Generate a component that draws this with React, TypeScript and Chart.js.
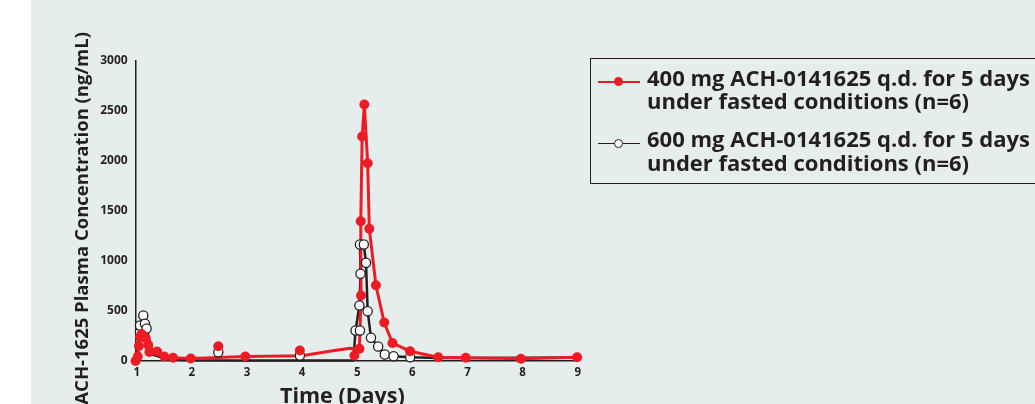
import React, { useEffect, useRef } from "react";
import { Chart, registerables } from "chart.js";

Chart.register(...registerables);

// ---- data ----
const X_TICKS = [1, 2, 3, 4, 5, 6, 7, 8, 9];
const Y_TICKS = [0, 500, 1000, 1500, 2000, 2500, 3000];

const X_TITLE = "Time (Days)";
const Y_TITLE = "ACH-1625 Plasma Concentration (ng/mL)";

const LEGEND_400 = ["400 mg ACH-0141625 q.d. for 5 days", "under fasted conditions (n=6)"];
const LEGEND_600 = ["600 mg ACH-0141625 q.d. for 5 days", "under fasted conditions (n=6)"];

// 400 mg: connecting line
const red400LineX = [0.98, 1.02, 1.04, 1.06, 1.09, 1.12, 1.16, 1.21, 1.23, 1.37, 1.5, 1.66, 1.98, 2.97, 4.0, 4.5, 4.87, 5.04, 5.07, 5.065, 5.09, 5.13, 5.19, 5.22, 5.34, 5.49, 5.64, 5.96, 6.47, 6.97, 7.97, 8.99];
const red400LineY = [0, 45, 150, 240, 270, 250, 230, 160, 90, 95, 45, 32, 25, 45, 52, 98, 128, 122, 655, 1398, 2245, 2565, 1978, 1322, 758, 385, 180, 98, 38, 32, 22, 38];
// 400 mg: measured points
const red400PtsX = [0.98, 1.02, 1.04, 1.06, 1.09, 1.12, 1.16, 1.21, 1.23, 1.37, 1.5, 1.66, 1.98, 2.48, 2.97, 3.96, 4.95, 5.04, 5.07, 5.065, 5.09, 5.13, 5.19, 5.22, 5.34, 5.49, 5.64, 5.96, 6.47, 6.97, 7.97, 8.99];
const red400PtsY = [0, 45, 150, 240, 270, 250, 230, 160, 90, 95, 45, 32, 25, 148, 45, 105, 55, 122, 655, 1398, 2245, 2565, 1978, 1322, 758, 385, 180, 98, 38, 32, 22, 38];

// 600 mg: connecting line
const blk600LineX = [0.98, 1.06, 1.06, 1.12, 1.15, 1.18, 1.3, 1.6, 2.0, 3.0, 4.0, 4.93, 4.97, 5.04, 5.06, 5.05, 5.12, 5.16, 5.19, 5.25, 5.38, 5.5, 5.66, 5.96, 6.5, 7.0, 8.0, 9.0];
const blk600LineY = [0, 288, 355, 455, 372, 325, 60, 15, 8, 5, 5, 5, 305, 555, 872, 1165, 1165, 982, 498, 232, 145, 65, 48, 38, 30, 30, 32, 35];
// 600 mg: measured points
const wht600PtsX = [1.06, 1.06, 1.12, 1.15, 1.18, 2.48, 3.96, 4.97, 5.05, 5.04, 5.06, 5.05, 5.12, 5.16, 5.19, 5.25, 5.38, 5.5, 5.66, 5.96];
const wht600PtsY = [288, 355, 455, 372, 325, 88, 55, 305, 305, 555, 872, 1165, 1165, 982, 498, 232, 145, 65, 48, 38];

const RED = "#ed1c24";
const INK = "#231f20";
const BG = "#e6eeed";
const FONT = "'Open Sans', 'Noto Sans', sans-serif";

const toPts = (xs: number[], ys: number[]) => xs.map((x, i) => ({ x, y: ys[i] }));

const titlesPlugin = {
  id: "axisTitles",
  afterDraw(chart: any) {
    const ctx = chart.ctx as CanvasRenderingContext2D;
    ctx.save();
    ctx.fillStyle = INK;
    ctx.font = `bold 18.5px ${FONT}`;
    ctx.translate(88, 32);
    ctx.rotate(-Math.PI / 2);
    ctx.textAlign = "right";
    ctx.textBaseline = "alphabetic";
    ctx.fillText(Y_TITLE, 0, 0);
    ctx.restore();

    ctx.save();
    ctx.fillStyle = INK;
    ctx.font = `bold 21.5px ${FONT}`;
    ctx.textAlign = "left";
    ctx.textBaseline = "alphabetic";
    ctx.fillText(X_TITLE, 280, 403);
    ctx.restore();
  },
};

function LegendItem({ lines, top, filled }: { lines: string[]; top: number; filled: boolean }) {
  return (
    <>
      <div style={{ position: "absolute", left: 598, top: top + 15.5, width: 42, height: 1.5, background: filled ? RED : INK }} />
      <div
        style={{
          position: "absolute",
          left: 613.5,
          top: top + 11.5,
          width: 9,
          height: 9,
          borderRadius: "50%",
          boxSizing: "border-box",
          background: filled ? RED : "#fff",
          border: filled ? "none" : `1.3px solid ${INK}`,
        }}
      />
      <div
        style={{
          position: "absolute",
          left: 647,
          top: top,
          font: `bold 22px ${FONT}`,
          lineHeight: "23.5px",
          color: INK,
          whiteSpace: "nowrap",
        }}
      >
        {lines.map((l, i) => (
          <div key={i}>{l}</div>
        ))}
      </div>
    </>
  );
}

export default function App() {
  const ref = useRef<HTMLCanvasElement | null>(null);

  useEffect(() => {
    if (!ref.current) return;
    const chart = new Chart(ref.current, {
      type: "scatter",
      data: {
        datasets: [
          {
            label: "400 pts",
            data: toPts(red400PtsX, red400PtsY),
            showLine: false,
            pointRadius: 5,
            pointBackgroundColor: RED,
            pointBorderWidth: 0,
            clip: false,
          },
          {
            label: "600 pts",
            data: toPts(wht600PtsX, wht600PtsY),
            showLine: false,
            pointRadius: 4.6,
            pointBackgroundColor: "#ffffff",
            pointBorderColor: INK,
            pointBorderWidth: 1.3,
            clip: false,
          },
          {
            label: "400 line",
            data: toPts(red400LineX, red400LineY),
            showLine: true,
            borderColor: RED,
            borderWidth: 3,
            pointRadius: 0,
            tension: 0,
            clip: false,
          },
          {
            label: "600 line",
            data: toPts(blk600LineX, blk600LineY),
            showLine: true,
            borderColor: INK,
            borderWidth: 2.5,
            pointRadius: 0,
            tension: 0,
            clip: false,
          },
        ],
      },
      options: {
        animation: false,
        responsive: false,
        devicePixelRatio: 1,
        layout: { padding: { left: 0, top: 61, right: 457.3, bottom: 0 } },
        plugins: { legend: { display: false }, tooltip: { enabled: false }, title: { display: false } },
        scales: {
          x: {
            type: "linear",
            min: 0.982,
            max: 9,
            afterBuildTicks: (s: any) => {
              s.ticks = X_TICKS.map((v) => ({ value: v }));
            },
            afterFit: (s: any) => {
              s.height = 43;
            },
            grid: { drawOnChartArea: false, drawTicks: false },
            border: { color: INK, width: 1.5 },
            ticks: { color: INK, font: { family: FONT, size: 11.5, weight: "bold" }, padding: 5, maxRotation: 0, callback: (v: any) => String(v) },
          },
          y: {
            type: "linear",
            min: 0,
            max: 3000,
            afterBuildTicks: (s: any) => {
              s.ticks = Y_TICKS.map((v) => ({ value: v }));
            },
            afterFit: (s: any) => {
              s.width = 135.7;
            },
            grid: { drawOnChartArea: false, drawTicks: false },
            border: { color: INK, width: 1.5 },
            ticks: { color: INK, font: { family: FONT, size: 12, weight: "bold" }, padding: 8, callback: (v: any) => String(v) },
          },
        },
      },
      plugins: [titlesPlugin],
    });
    return () => chart.destroy();
  }, []);

  return (
    <div style={{ position: "absolute", left: 0, top: 0, width: 1035, height: 404, background: "#fff", overflow: "hidden" }}>
      <div style={{ position: "absolute", left: 31, top: 0, width: 1004, height: 404, background: BG }} />
      <canvas ref={ref} width={1035} height={404} style={{ position: "absolute", left: 0, top: 0, width: 1035, height: 404 }} />
      <div
        style={{
          position: "absolute",
          left: 590,
          top: 58,
          width: 460,
          height: 126,
          boxSizing: "border-box",
          border: `1.5px solid ${INK}`,
        }}
      />
      <LegendItem lines={LEGEND_400} top={65.7} filled={true} />
      <LegendItem lines={LEGEND_600} top={127.4} filled={false} />
    </div>
  );
}
